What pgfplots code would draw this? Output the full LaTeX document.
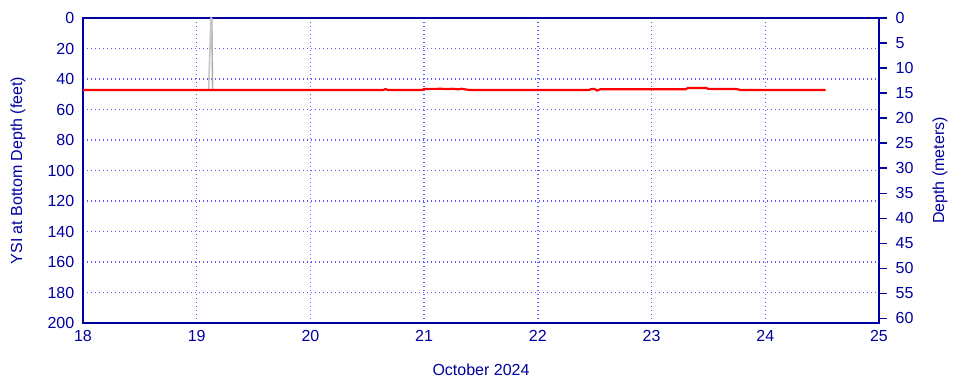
\documentclass[border=0pt]{standalone}
\usepackage{pgfplots}
\pgfplotsset{compat=1.18}
\usepackage{fontspec}
\setmainfont{Liberation Sans}
\definecolor{axc}{RGB}{0,0,160}
\definecolor{gridc}{RGB}{90,90,255}
\begin{document}
\begin{tikzpicture}
\useasboundingbox (0,0) rectangle (720pt,288pt);
\pgfplotsset{
  common/.style={
    at={(62.25pt,45.75pt)}, anchor=south west,
    scale only axis, width=597pt, height=228.75pt,
    xmin=18, xmax=25,
    axis line style={axc, line width=0.9pt},
    tick style={axc, line width=0.9pt},
    every tick label/.append style={text=axc, font=\fontsize{12}{14}\selectfont},
    /pgf/number format/assume math mode=true,
  }
}
\begin{axis}[common,
  ymin=0, ymax=200, y dir=reverse,
  xtick={18,...,25}, ytick={0,20,...,200},
  major tick length=0pt,
  xmajorgrids, ymajorgrids,
  every axis grid/.style={draw=gridc, line width=1pt, dash pattern=on 1pt off 2pt},
  yticklabel style={xshift=-3pt},
  xticklabel style={yshift=-2pt},
  xlabel={October 2024},
  ylabel={YSI at Bottom Depth (feet)},
  every axis x label/.style={at={(axis description cs:0.5,-0.154)}, anchor=center, text=axc, font=\fontsize{12}{14}\selectfont},
  every axis y label/.style={at={(axis description cs:-0.0817,0.5)}, anchor=center, rotate=90, text=axc, font=\fontsize{12}{14}\selectfont},
]
\addplot[gray!45, line width=1.2pt, line join=round] coordinates {
(19.105,47.2) (19.125,0) (19.13,0) (19.14,47.2)
};
\addplot[gray!70, line width=0.5pt] coordinates {
(19.14,47.2) (19.135,0)
};
\addplot[red, line width=1.6pt] coordinates {
(18.00,47.2) (20.64,47.2) (20.66,46.6) (20.68,47.2) (20.98,47.2)
(21.00,46.6) (21.15,46.4) (21.20,46.6) (21.25,46.4) (21.30,46.8)
(21.33,46.4) (21.36,46.8) (21.40,47.2) (22.45,47.2) (22.47,46.6)
(22.50,46.6) (22.52,47.6) (22.55,46.7) (23.30,46.7) (23.32,45.9)
(23.48,45.9) (23.50,46.5) (23.75,46.6) (23.78,47.2) (24.53,47.2)
};
\end{axis}
\begin{axis}[common,
  ymin=0, ymax=60.96, y dir=reverse,
  axis x line=none, axis y line*=right,
  ytick={0,5,...,60},
  major tick length=6pt,
  tick align=outside,
  yticklabel style={xshift=3pt},
  ylabel={Depth (meters)},
  every axis y label/.style={at={(axis description cs:1.0766,0.5)}, anchor=center, rotate=90, text=axc, font=\fontsize{12}{14}\selectfont},
]
\end{axis}
\end{tikzpicture}
\end{document}
